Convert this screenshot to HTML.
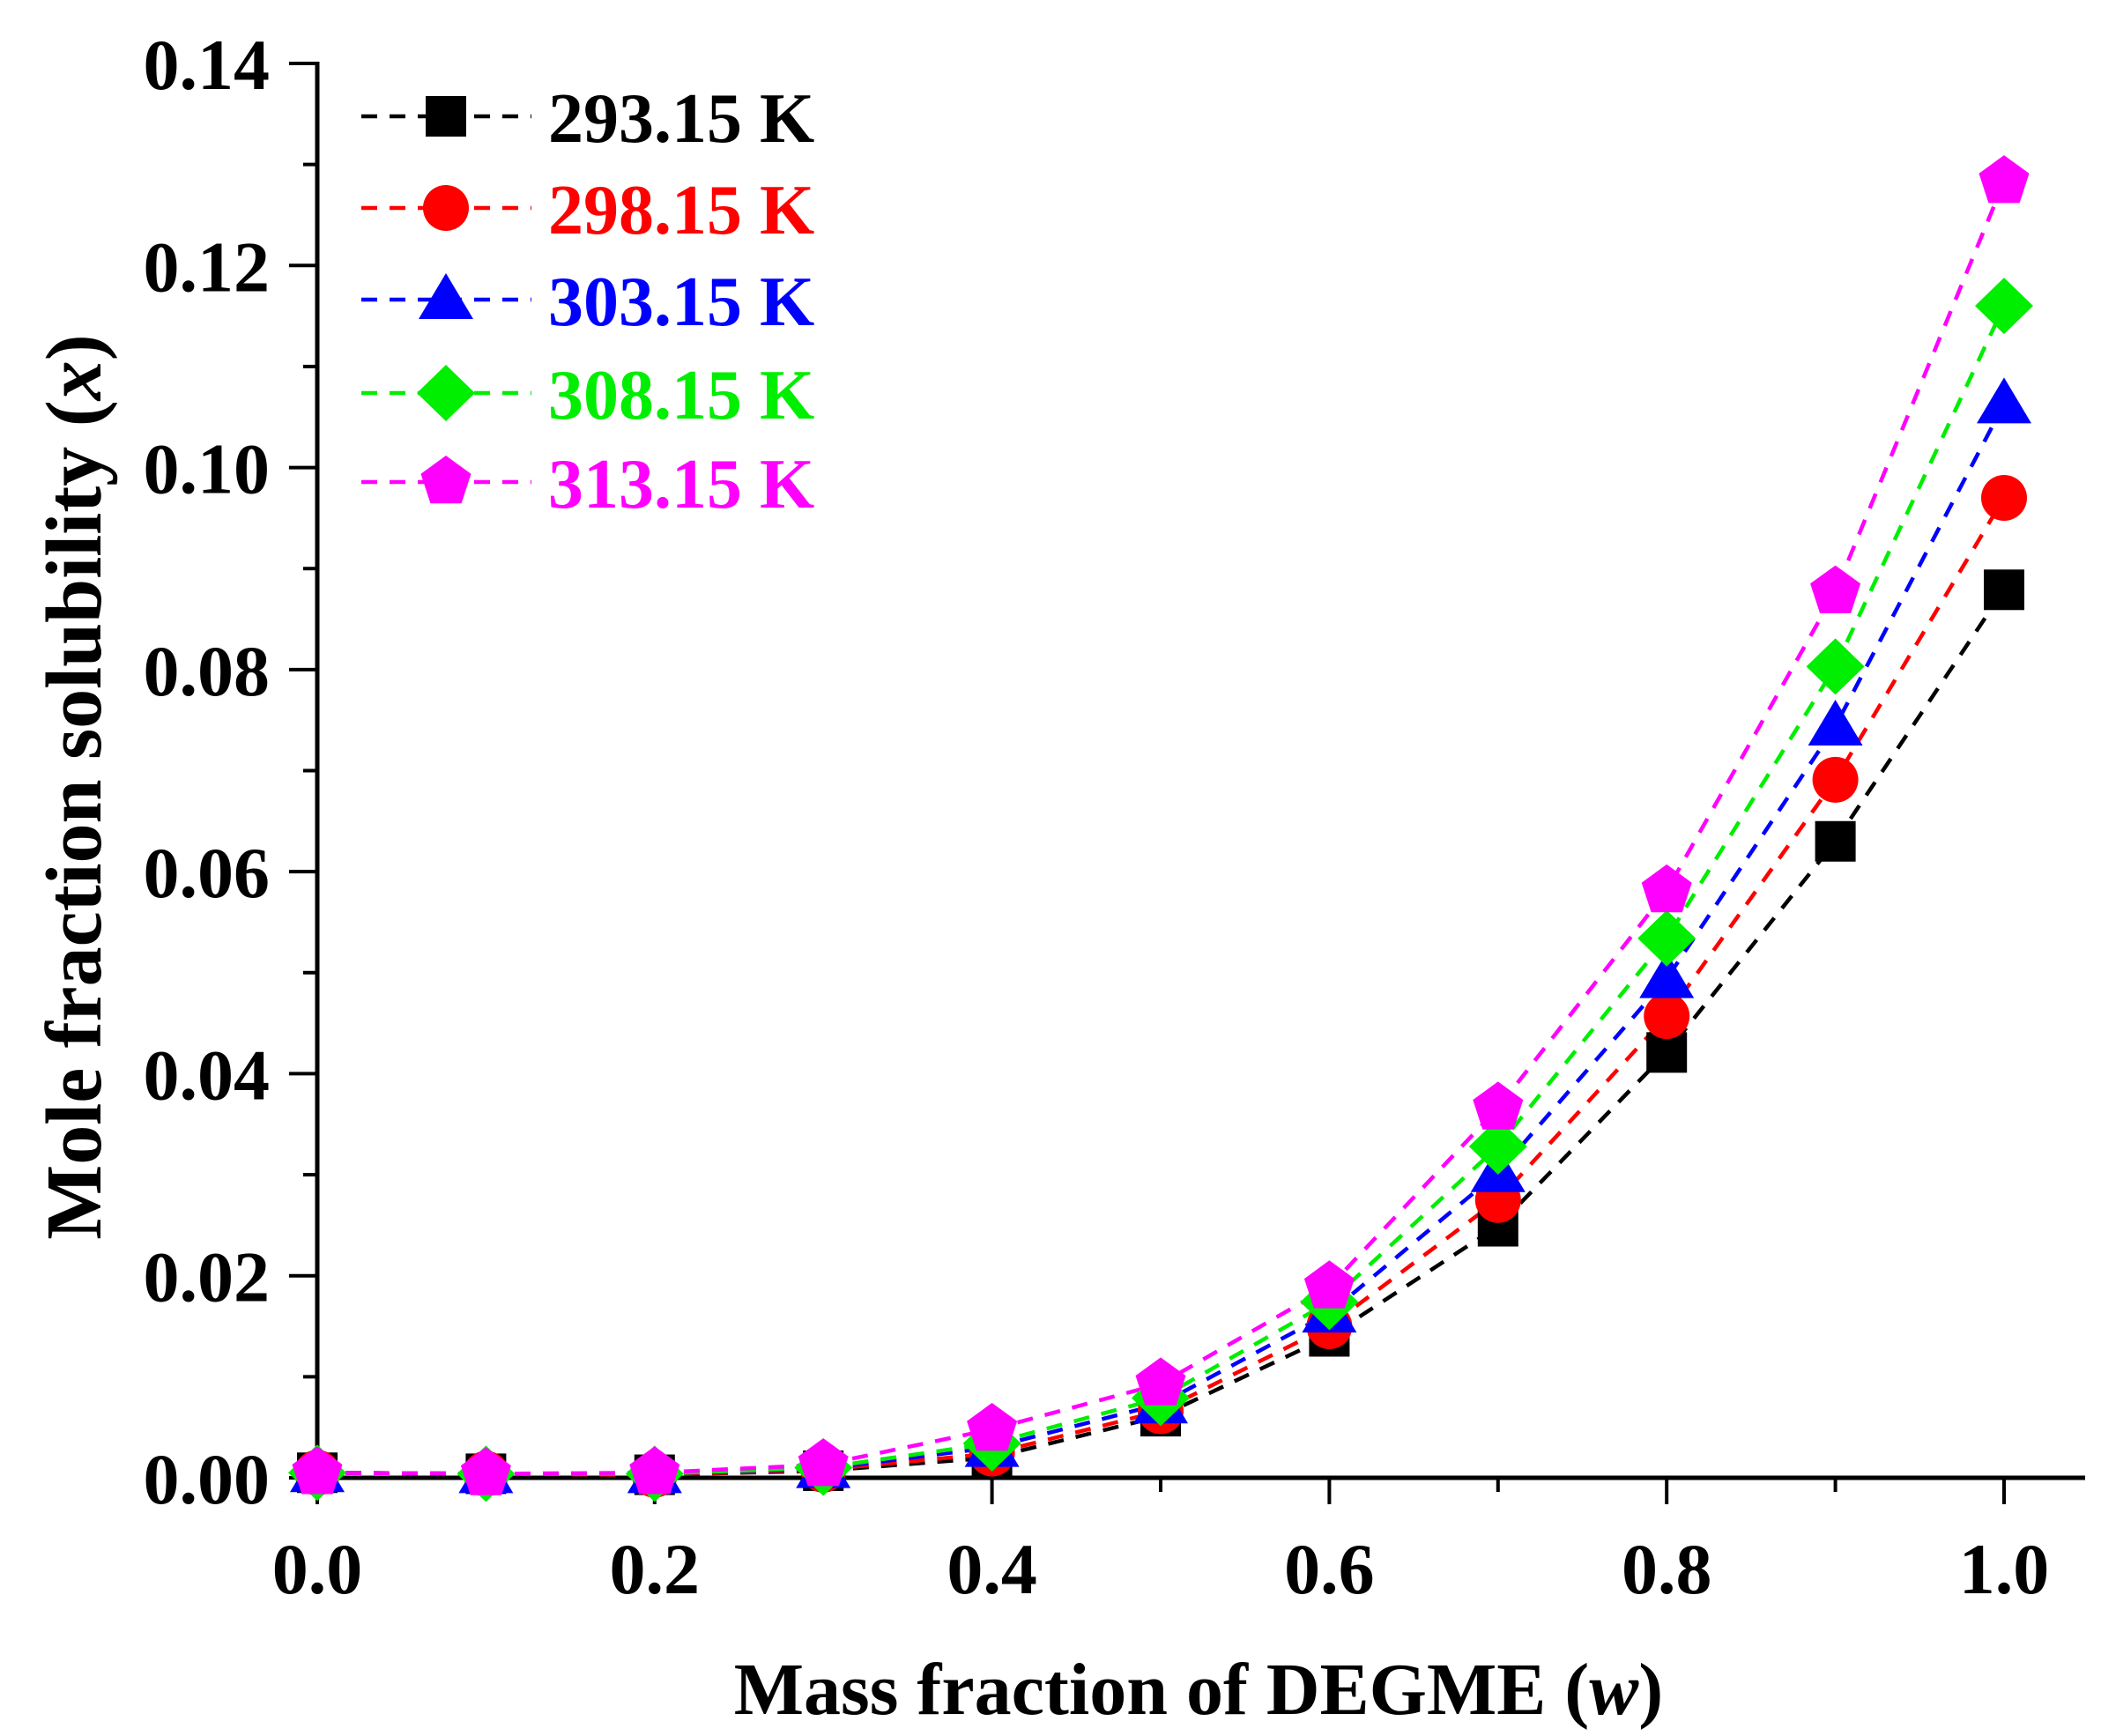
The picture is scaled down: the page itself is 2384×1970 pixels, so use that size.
<!DOCTYPE html>
<html><head><meta charset="utf-8"><style>
html,body{margin:0;padding:0;background:#fff;}
svg{display:block;font-family:"Liberation Serif",serif;font-weight:bold;}
</style></head><body>
<svg id="chart" width="2384" height="1970" viewBox="0 0 2384 1970" xmlns="http://www.w3.org/2000/svg">
<g id="axes"></g>
<g id="series"></g>
<g id="legend"></g>
<text x="1360" y="1945" font-size="84" text-anchor="middle">Mass fraction of DEGME (<tspan font-style="italic">w</tspan>)</text>
<text transform="translate(114,893) rotate(-90)" font-size="90" text-anchor="middle">Mole fraction solubility (<tspan font-style="italic">x</tspan>)</text>
</svg>
<script>
const categories = [0.0,0.1,0.2,0.3,0.4,0.5,0.6,0.7,0.8,0.9,1.0];
const s293 = [0.0005,0.0004,0.0003,0.0007,0.0020,0.0061,0.0140,0.0249,0.0421,0.0630,0.0879];
const s298 = [0.0005,0.0004,0.0003,0.0008,0.0024,0.0066,0.0150,0.0275,0.0457,0.0691,0.0970];
const s303 = [0.0005,0.0004,0.0004,0.0009,0.0030,0.0073,0.0163,0.0302,0.0494,0.0744,0.1063];
const s308 = [0.0005,0.0004,0.0004,0.0010,0.0034,0.0079,0.0174,0.0328,0.0534,0.0803,0.1160];
const s313 = [0.0005,0.0004,0.0005,0.0013,0.0048,0.0093,0.0189,0.0366,0.0581,0.0877,0.1283];
const seriesNames = ["293.15 K","298.15 K","303.15 K","308.15 K","313.15 K"];
const xTickLabels = ["0.0","0.2","0.4","0.6","0.8","1.0"];
const yTickLabels = ["0.00","0.02","0.04","0.06","0.08","0.10","0.12","0.14"];

const NS="http://www.w3.org/2000/svg";
const X0=360, X1=2274, Y0=1677, Y1=72;
function xs(v){return X0+(X1-X0)*v/1.0;}
function ys(v){return Y0-(Y0-Y1)*v/0.14;}
function mk(tag,attrs,parent){const e=document.createElementNS(NS,tag);for(const k in attrs)e.setAttribute(k,attrs[k]);parent.appendChild(e);return e;}

const axes=document.getElementById('axes');
let a=mk('line',{x1:X0,y1:Y0,x2:2366,y2:Y0,stroke:'#000','stroke-width':5},axes);


a=mk('line',{x1:X0,y1:Y0+2,x2:X0,y2:Y1-2,stroke:'#000','stroke-width':5},axes);


for(let i=0;i<=10;i++){
  const v=i/10, major=i%2===0;
  const t=mk('line',{x1:xs(v),y1:Y0,x2:xs(v),y2:Y0+(major?30:16),stroke:'#000','stroke-width':4},axes);
  
  
}
xTickLabels.forEach((l,i)=>{
  const t=mk('text',{x:xs(i*0.2),y:1808,'font-size':82,'text-anchor':'middle'},axes);
  t.textContent=l;
  
  
});
for(let i=0;i<=14;i++){
  const v=i*0.01, major=i%2===0;
  const t=mk('line',{x1:X0,y1:ys(v),x2:X0-(major?32:16),y2:ys(v),stroke:'#000','stroke-width':4},axes);
  
  
}
yTickLabels.forEach((l,i)=>{
  const t=mk('text',{x:306,y:ys(i*0.02)+29,'font-size':82,'text-anchor':'end'},axes);
  t.textContent=l;
  
  
});

const colors=['#000000','#ff0000','#0000ff','#00ee00','#ff00ff'];
const shapes=['square','circle','triangle','diamond','pentagon'];
const data=[s293,s298,s303,s308,s313];
function marker(shape,cx,cy,color,parent){
  let e;
  if(shape==='square') e=mk('rect',{x:cx-23,y:cy-23,width:46,height:46,fill:color},parent);
  else if(shape==='circle') e=mk('circle',{cx:cx,cy:cy,r:26,fill:color},parent);
  else if(shape==='triangle') e=mk('polygon',{points:`${cx},${cy-30} ${cx+31},${cy+22} ${cx-31},${cy+22}`,fill:color},parent);
  else if(shape==='diamond') e=mk('polygon',{points:`${cx},${cy-32} ${cx+33},${cy} ${cx},${cy+32} ${cx-33},${cy}`,fill:color},parent);
  else {
    const p=[];for(let k=0;k<5;k++){const a=-Math.PI/2+k*2*Math.PI/5;p.push((cx+30*Math.cos(a)).toFixed(1)+','+(cy+30*Math.sin(a)).toFixed(1));}
    e=mk('polygon',{points:p.join(' '),fill:color},parent);
  }
  return e;
}
const sg=document.getElementById('series');
data.forEach((arr,si)=>{
  const g=mk('g',{},sg);
  
  
  const pts=arr.map((v,i)=>xs(categories[i]).toFixed(1)+','+ys(v).toFixed(1)).join(' ');
  const ln=mk('polyline',{points:pts,fill:'none',stroke:colors[si],'stroke-width':4.5,'stroke-dasharray':'18 14'},g);
  
  
});
data.forEach((arr,si)=>{
  arr.forEach((v,i)=>{
    const m=marker(shapes[si],xs(categories[i]),ys(v),colors[si],sg);
    
    
  });
});

const lg=document.getElementById('legend');
const rowsY=[132,236,340,446,547];
seriesNames.forEach((n,si)=>{
  const g=mk('g',{},lg);
  
  
  mk('line',{x1:410,y1:rowsY[si],x2:603,y2:rowsY[si],stroke:colors[si],'stroke-width':4.5,'stroke-dasharray':'18 14'},g);
  marker(shapes[si],506,rowsY[si],colors[si],g);
  const t=mk('text',{x:622,y:rowsY[si]+29,'font-size':80,fill:colors[si]},g);
  t.textContent=n;
});
</script>
</body></html>
